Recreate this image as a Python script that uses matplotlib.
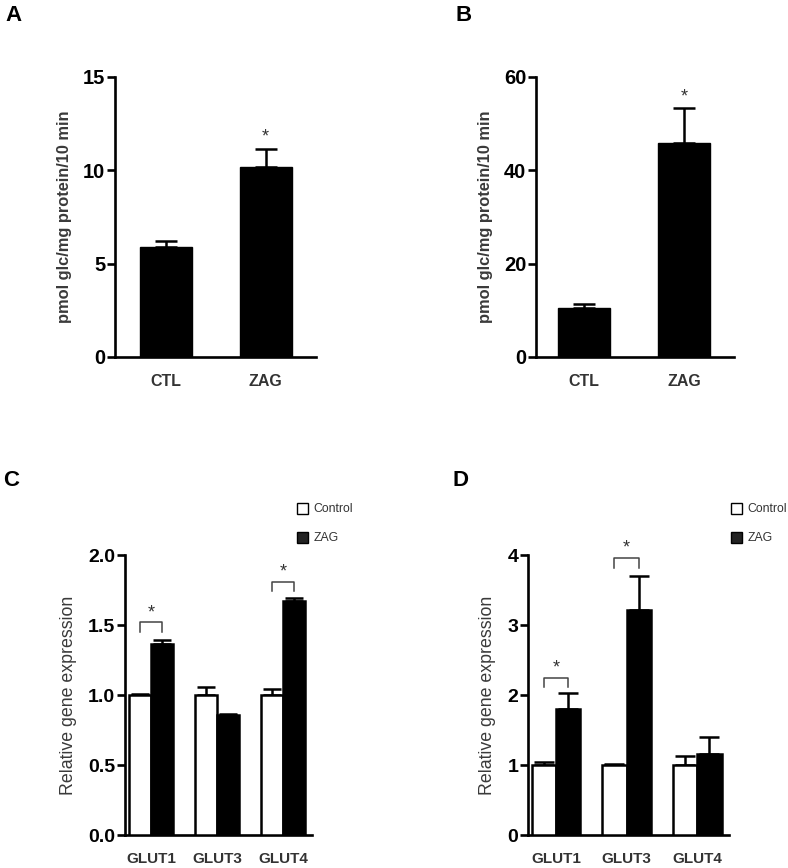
import matplotlib
matplotlib.use("Agg")
import matplotlib.pyplot as plt
import numpy as np

plt.rcParams['font.family'] = ['Liberation Sans', 'DejaVu Sans']

# ---------------- data ----------------
uptake_groups = ["CTL", "ZAG"]
uptake_A = [5.88, 10.18]
uptake_A_err = [0.36, 0.98]
uptake_B = [10.5, 45.8]
uptake_B_err = [0.9, 7.5]

genes = ["GLUT1", "GLUT3", "GLUT4"]
series = ["Control", "ZAG"]
C_control = [1.00, 1.00, 1.00]
C_control_err = [0.01, 0.06, 0.04]
C_zag = [1.362, 0.857, 1.671]
C_zag_err = [0.031, 0.005, 0.024]
C_sig = [(0, 1.52), (2, 1.81)]          # (gene index, bracket height)

D_control = [1.00, 1.00, 1.00]
D_control_err = [0.04, 0.01, 0.13]
D_zag = [1.795, 3.21, 1.157]
D_zag_err = [0.235, 0.49, 0.245]
D_sig = [(0, 2.25), (1, 3.96)]

W, H = 788, 868
fig = plt.figure(figsize=(W / 100, H / 100), dpi=100)

def px_axes(left, right, top, bottom):
    return fig.add_axes([left / W, (H - bottom) / H, (right - left) / W, (bottom - top) / H])

AX_LW = 1.9
LABEL_COLOR = "#3a3a3a"

def style(ax, ticksize):
    for s in ("top", "right"):
        ax.spines[s].set_visible(False)
    for s in ("left", "bottom"):
        ax.spines[s].set_linewidth(AX_LW)
    ax.tick_params(axis="y", direction="out", length=6, width=AX_LW, labelsize=ticksize, pad=1)
    ax.tick_params(axis="x", length=0, pad=12)
    for lab in ax.get_yticklabels():
        lab.set_fontweight("bold")

def uptake_panel(ax, vals, errs, ymax, yticks, xlim):
    x = np.arange(len(uptake_groups))
    ax.bar(x, vals, width=0.52, color="black", edgecolor="black", zorder=3)
    ax.errorbar(x, vals, yerr=[np.zeros(len(vals)), errs], fmt="none", ecolor="black",
                elinewidth=1.8, capsize=8, capthick=1.8, zorder=2)
    ax.set_xlim(*xlim)
    ax.set_ylim(0, ymax)
    ax.set_yticks(yticks)
    ax.set_xticks(x)
    ax.set_xticklabels(uptake_groups, fontsize=11.5, fontweight="bold", color="#333333")
    ax.set_ylabel("pmol glc/mg protein/10 min", fontsize=11.8, fontweight="bold",
                  color=LABEL_COLOR, labelpad=8)
    style(ax, 14.5)
    ax.annotate("*", (x[1], vals[1] + errs[1]), xytext=(0, 2), textcoords="offset points",
                ha="center", va="bottom", fontsize=13, color="#333333")

axA = px_axes(115, 316, 77, 357)
uptake_panel(axA, uptake_A, uptake_A_err, 15, [0, 5, 10, 15], (-0.505, 1.505))
axB = px_axes(536, 734, 77, 357)
uptake_panel(axB, uptake_B, uptake_B_err, 60, [0, 20, 40, 60], (-0.483, 1.50))

def gene_panel(ax, ctrl, ctrl_err, zag, zag_err, sig, ymax, yticks, fmt, xlim, bw, cap, legend_anchor):
    x = np.arange(len(genes))
    xc = x - bw / 2
    xz = x + bw / 2
    ax.bar(xc, ctrl, width=bw, color="white", edgecolor="black", linewidth=1.8,
           label=series[0], zorder=3)
    ax.bar(xz, zag, width=bw, color="black", edgecolor="black", linewidth=1.8,
           label=series[1], zorder=3)
    ax.errorbar(xc, ctrl, yerr=[np.zeros(3), ctrl_err], fmt="none", ecolor="black",
                elinewidth=1.8, capsize=cap, capthick=1.8, zorder=2)
    ax.errorbar(xz, zag, yerr=[np.zeros(3), zag_err], fmt="none", ecolor="black",
                elinewidth=1.8, capsize=cap, capthick=1.8, zorder=2)
    for gi, h in sig:
        drop = ymax * 0.035
        ax.plot([xc[gi], xc[gi], xz[gi], xz[gi]], [h - drop, h, h, h - drop],
                color="#444444", lw=1.1, zorder=4)
        ax.text(x[gi], h + ymax * 0.004, "*", ha="center", va="bottom",
                fontsize=13, color="#333333")
    ax.set_xlim(*xlim)
    ax.set_ylim(0, ymax)
    ax.set_yticks(yticks)
    ax.set_yticklabels([fmt.format(t) for t in yticks])
    ax.set_xticks(x)
    ax.set_xticklabels(genes, fontsize=11, fontweight="bold", color="#333333")
    ax.set_ylabel("Relative gene expression", fontsize=12.8, color=LABEL_COLOR, labelpad=8)
    style(ax, 14)
    leg = ax.legend(loc="upper left", bbox_to_anchor=legend_anchor,
                    bbox_transform=fig.transFigure, frameon=False, fontsize=8.8,
                    handlelength=0.9, handleheight=0.95, handletextpad=0.45,
                    labelspacing=1.35, borderaxespad=0, borderpad=0)
    for t in leg.get_texts():
        t.set_color("#333333")
    leg.legend_handles[0].set_linewidth(1.0)
    leg.legend_handles[1].set_linewidth(1.0)
    leg.legend_handles[1].set_facecolor("#222222")

axC = px_axes(125, 312, 555, 835)
gene_panel(axC, C_control, C_control_err, C_zag, C_zag_err, C_sig, 2.0,
           [0, 0.5, 1.0, 1.5, 2.0], "{:.1f}", (-0.394, 2.435), 0.333, 6.5,
           (297 / W, (H - 503) / H))
axD = px_axes(528, 729, 555, 835)
gene_panel(axD, D_control, D_control_err, D_zag, D_zag_err, D_sig, 4.0,
           [0, 1, 2, 3, 4], "{:.0f}", (-0.397, 2.45), 0.345, 7,
           (731 / W, (H - 503) / H))

for lab, (xp, yp) in zip("ABCD", [(5, 5), (456, 5), (3, 470), (453, 470)]):
    fig.text(xp / W, 1 - yp / H, lab, fontsize=16, fontweight="bold", va="top", ha="left")

fig.savefig("out.png", dpi=100)
